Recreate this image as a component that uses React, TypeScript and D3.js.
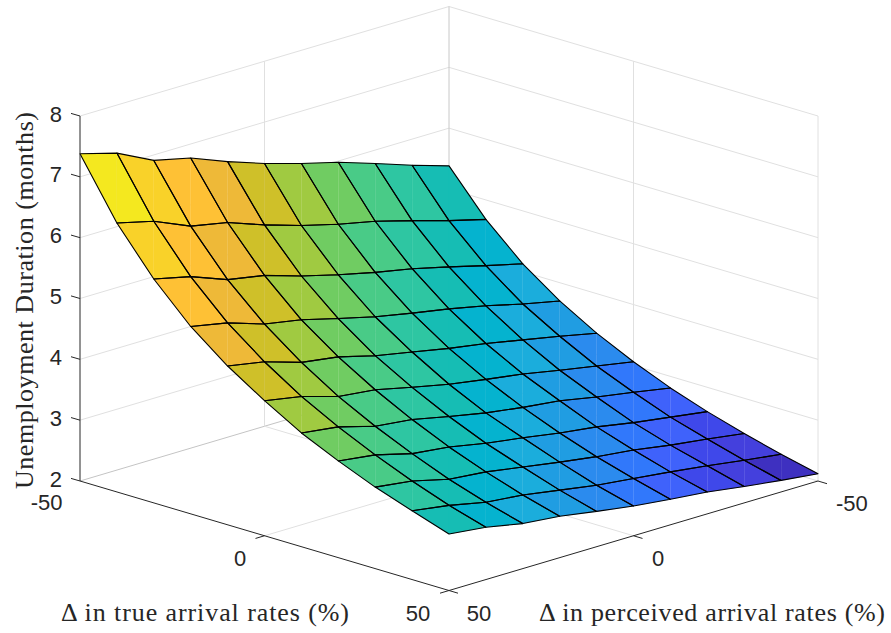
import React, { useEffect, useRef } from 'react';
import * as d3 from 'd3';

// rows: true arrival rate, columns: perceived arrival rate
const trueRates = [-50, -40, -30, -20, -10, 0, 10, 20, 30, 40, 50];
const perceivedRates = [50, 40, 30, 20, 10, 0, -10, -20, -30, -40, -50];
const duration = [
  [7.38, 7.21, 6.91, 6.77, 6.53, 6.32, 6.14, 5.98, 5.78, 5.57, 5.38],
  [6.42, 6.27, 6.01, 5.89, 5.67, 5.48, 5.32, 5.19, 5.02, 4.84, 4.68],
  [5.68, 5.54, 5.31, 5.2, 5.01, 4.85, 4.71, 4.59, 4.44, 4.28, 4.13],
  [5.08, 4.96, 4.76, 4.65, 4.49, 4.34, 4.22, 4.11, 3.98, 3.83, 3.7],
  [4.61, 4.5, 4.31, 4.22, 4.06, 3.94, 3.82, 3.72, 3.6, 3.48, 3.35],
  [4.22, 4.11, 3.93, 3.86, 3.72, 3.59, 3.49, 3.4, 3.28, 3.17, 3.06],
  [3.87, 3.79, 3.62, 3.55, 3.42, 3.3, 3.21, 3.14, 3.02, 2.92, 2.81],
  [3.59, 3.51, 3.35, 3.28, 3.16, 3.07, 2.97, 2.89, 2.78, 2.69, 2.6],
  [3.34, 3.26, 3.11, 3.05, 2.95, 2.85, 2.76, 2.69, 2.59, 2.51, 2.42],
  [3.13, 3.04, 2.91, 2.85, 2.75, 2.65, 2.58, 2.51, 2.43, 2.34, 2.26],
  [2.93, 2.86, 2.74, 2.68, 2.58, 2.49, 2.42, 2.36, 2.27, 2.19, 2.12],
];

// colour follows true minus perceived, one step per cell diagonal
const gapValues = d3.range(-90, 100, 10);
const gapColors = [
  '#f4e81f', '#f9d229', '#fec135', '#eeb938', '#cfc029', '#a0ca41', '#70cc62',
  '#49cb87', '#2ec6a2', '#16bdb4', '#05b3cf', '#1baddc', '#209de2', '#2b8bee',
  '#3178fb', '#3f62fb', '#3f48ea', '#4440dd', '#3e30c0',
];

const rateTicks = [-50, 0, 50];
const zTicks = [2, 3, 4, 5, 6, 7, 8];

const width = 891;
const height = 633;
const ink = '#262626';
const serif = '"Liberation Serif", serif';
const sans = '"Liberation Sans", Arial, sans-serif';

export default function App() {
  const ref = useRef<SVGSVGElement>(null);

  useEffect(() => {
    const svg = d3.select(ref.current);
    svg.selectAll('*').remove();

    // orthographic view: back corner at x 449, floor diamond, z goes straight up
    const xTrue = d3.scaleLinear().domain([-50, 50]).range([0, 369]);
    const xPerc = d3.scaleLinear().domain([-50, 50]).range([0, -369]);
    const yTrue = d3.scaleLinear().domain([-50, 50]).range([0, 109.5]);
    const yPerc = d3.scaleLinear().domain([-50, 50]).range([0, 109.5]);
    const zScale = d3.scaleLinear().domain([2, 8]).range([0, -365]);
    const color = d3.scaleOrdinal<number, string>().domain(gapValues).range(gapColors);

    const project = (t: number, p: number, z: number): [number, number] => [
      449 + xTrue(t) + xPerc(p),
      371.5 + yTrue(t) + yPerc(p) + zScale(z),
    ];
    const line = d3.line();

    const seg = (g: any, a: [number, number], b: [number, number], stroke: string, w = 1) =>
      g.append('path').attr('d', line([a, b])).attr('fill', 'none').attr('stroke', stroke).attr('stroke-width', w);

    // walls and floor grid
    const grid = svg.append('g');
    const gridCol = '#e0e0e0';
    zTicks.forEach((z) => {
      const c = z === 2 ? '#c4c4c4' : gridCol;
      seg(grid, project(-50, 50, z), project(-50, -50, z), c);
      seg(grid, project(-50, -50, z), project(50, -50, z), z === 2 ? '#dcdcdc' : gridCol);
    });
    seg(grid, project(0, -50, 2), project(0, -50, 8), gridCol);
    seg(grid, project(-50, 0, 2), project(-50, 0, 8), gridCol);
    seg(grid, project(50, -50, 2), project(50, -50, 8), gridCol);
    seg(grid, project(-50, -50, 2), project(-50, -50, 8), '#c8c8c8');
    seg(grid, project(0, 50, 2), project(0, -50, 2), gridCol);
    seg(grid, project(-50, 0, 2), project(50, 0, 2), gridCol);

    // surface cells, split on the vertical diagonal so a faint seam shows like in the reference
    const n = trueRates.length;
    const cells: { pts: [number, number][]; gap: number }[] = [];
    for (let i = n - 2; i >= 0; i--) {
      for (let j = 0; j < n - 1; j++) {
        const pt = (a: number, b: number) => project(trueRates[a], perceivedRates[b], duration[a][b]);
        cells.push({
          pts: [pt(i, j), pt(i + 1, j), pt(i + 1, j + 1), pt(i, j + 1)],
          gap: (trueRates[i] + trueRates[i + 1]) / 2 - (perceivedRates[j] + perceivedRates[j + 1]) / 2,
        });
      }
    }
    const surface = svg.append('g');
    cells.forEach((c) => {
      const [a, b, d, e] = c.pts;
      const fill = color(c.gap);
      surface.append('path').attr('d', line([a, b, e]) + 'Z').attr('fill', fill).attr('stroke', fill).attr('stroke-width', 0.25);
      surface.append('path').attr('d', line([b, d, e]) + 'Z').attr('fill', fill).attr('stroke', fill).attr('stroke-width', 0.25);
    });
    surface
      .selectAll('path.edge')
      .data(cells)
      .join('path')
      .attr('class', 'edge')
      .attr('d', (c) => line(c.pts) + 'Z')
      .attr('fill', 'none')
      .attr('stroke', '#000')
      .attr('stroke-width', 1.1)
      .attr('stroke-linejoin', 'round');

    // axes
    const axes = svg.append('g');
    seg(axes, project(-50, 50, 2), project(-50, 50, 8), ink);
    seg(axes, project(-50, 50, 2), project(50, 50, 2), ink);
    seg(axes, project(50, 50, 2), project(50, -50, 2), ink);

    zTicks.forEach((z) => {
      const [x, y] = project(-50, 50, z);
      seg(axes, [x - 9, y - 2.6], [x, y], ink);
    });
    rateTicks.forEach((r) => {
      const [x, y] = project(r, 50, 2);
      if (r !== -50) seg(axes, [x - 9, y + 2.7], [x, y], ink);
      const [x2, y2] = project(50, r, 2);
      seg(axes, [x2 + 9, y2 + 2.7], [x2, y2], ink);
    });

    const label = (x: number, y: number, s: string, anchor: string) =>
      axes
        .append('text')
        .attr('x', x)
        .attr('y', y)
        .attr('text-anchor', anchor)
        .attr('dominant-baseline', 'central')
        .attr('font-family', sans)
        .attr('font-size', 22)
        .attr('fill', ink)
        .text(s);

    zTicks.forEach((z) => {
      const [, y] = project(-50, 50, z);
      label(62, y - 2, String(z), 'end');
    });
    const trueLabelPos: [number, number, string][] = [
      [62.5, 502, 'end'],
      [240, 558, 'middle'],
      [418, 613.5, 'middle'],
    ];
    const percLabelPos: [number, number, string][] = [
      [479, 613.5, 'middle'],
      [658, 558, 'middle'],
      [836, 503, 'start'],
    ];
    [50, 0, -50].forEach((r, i) => label(percLabelPos[i][0], percLabelPos[i][1], String(r), percLabelPos[i][2]));
    rateTicks.forEach((r, i) => label(trueLabelPos[i][0], trueLabelPos[i][1], String(r), trueLabelPos[i][2]));

    const title = (s: string, len: number) =>
      axes
        .append('text')
        .attr('font-family', serif)
        .attr('font-size', 26)
        .attr('fill', ink)
        .attr('textLength', len)
        .attr('lengthAdjust', 'spacing')
        .text(s);
    title('Δ in true arrival rates (%)', 288).attr('x', 61).attr('y', 621);
    title('Δ in perceived arrival rates (%)', 346).attr('x', 539).attr('y', 621);
    title('Unemployment Duration (months)', 377).attr('transform', 'translate(33,489) rotate(-90)');
  }, []);

  return (
    <svg
      ref={ref}
      width={width}
      height={height}
      style={{ position: 'absolute', left: 0, top: 0, background: '#fff' }}
    />
  );
}
